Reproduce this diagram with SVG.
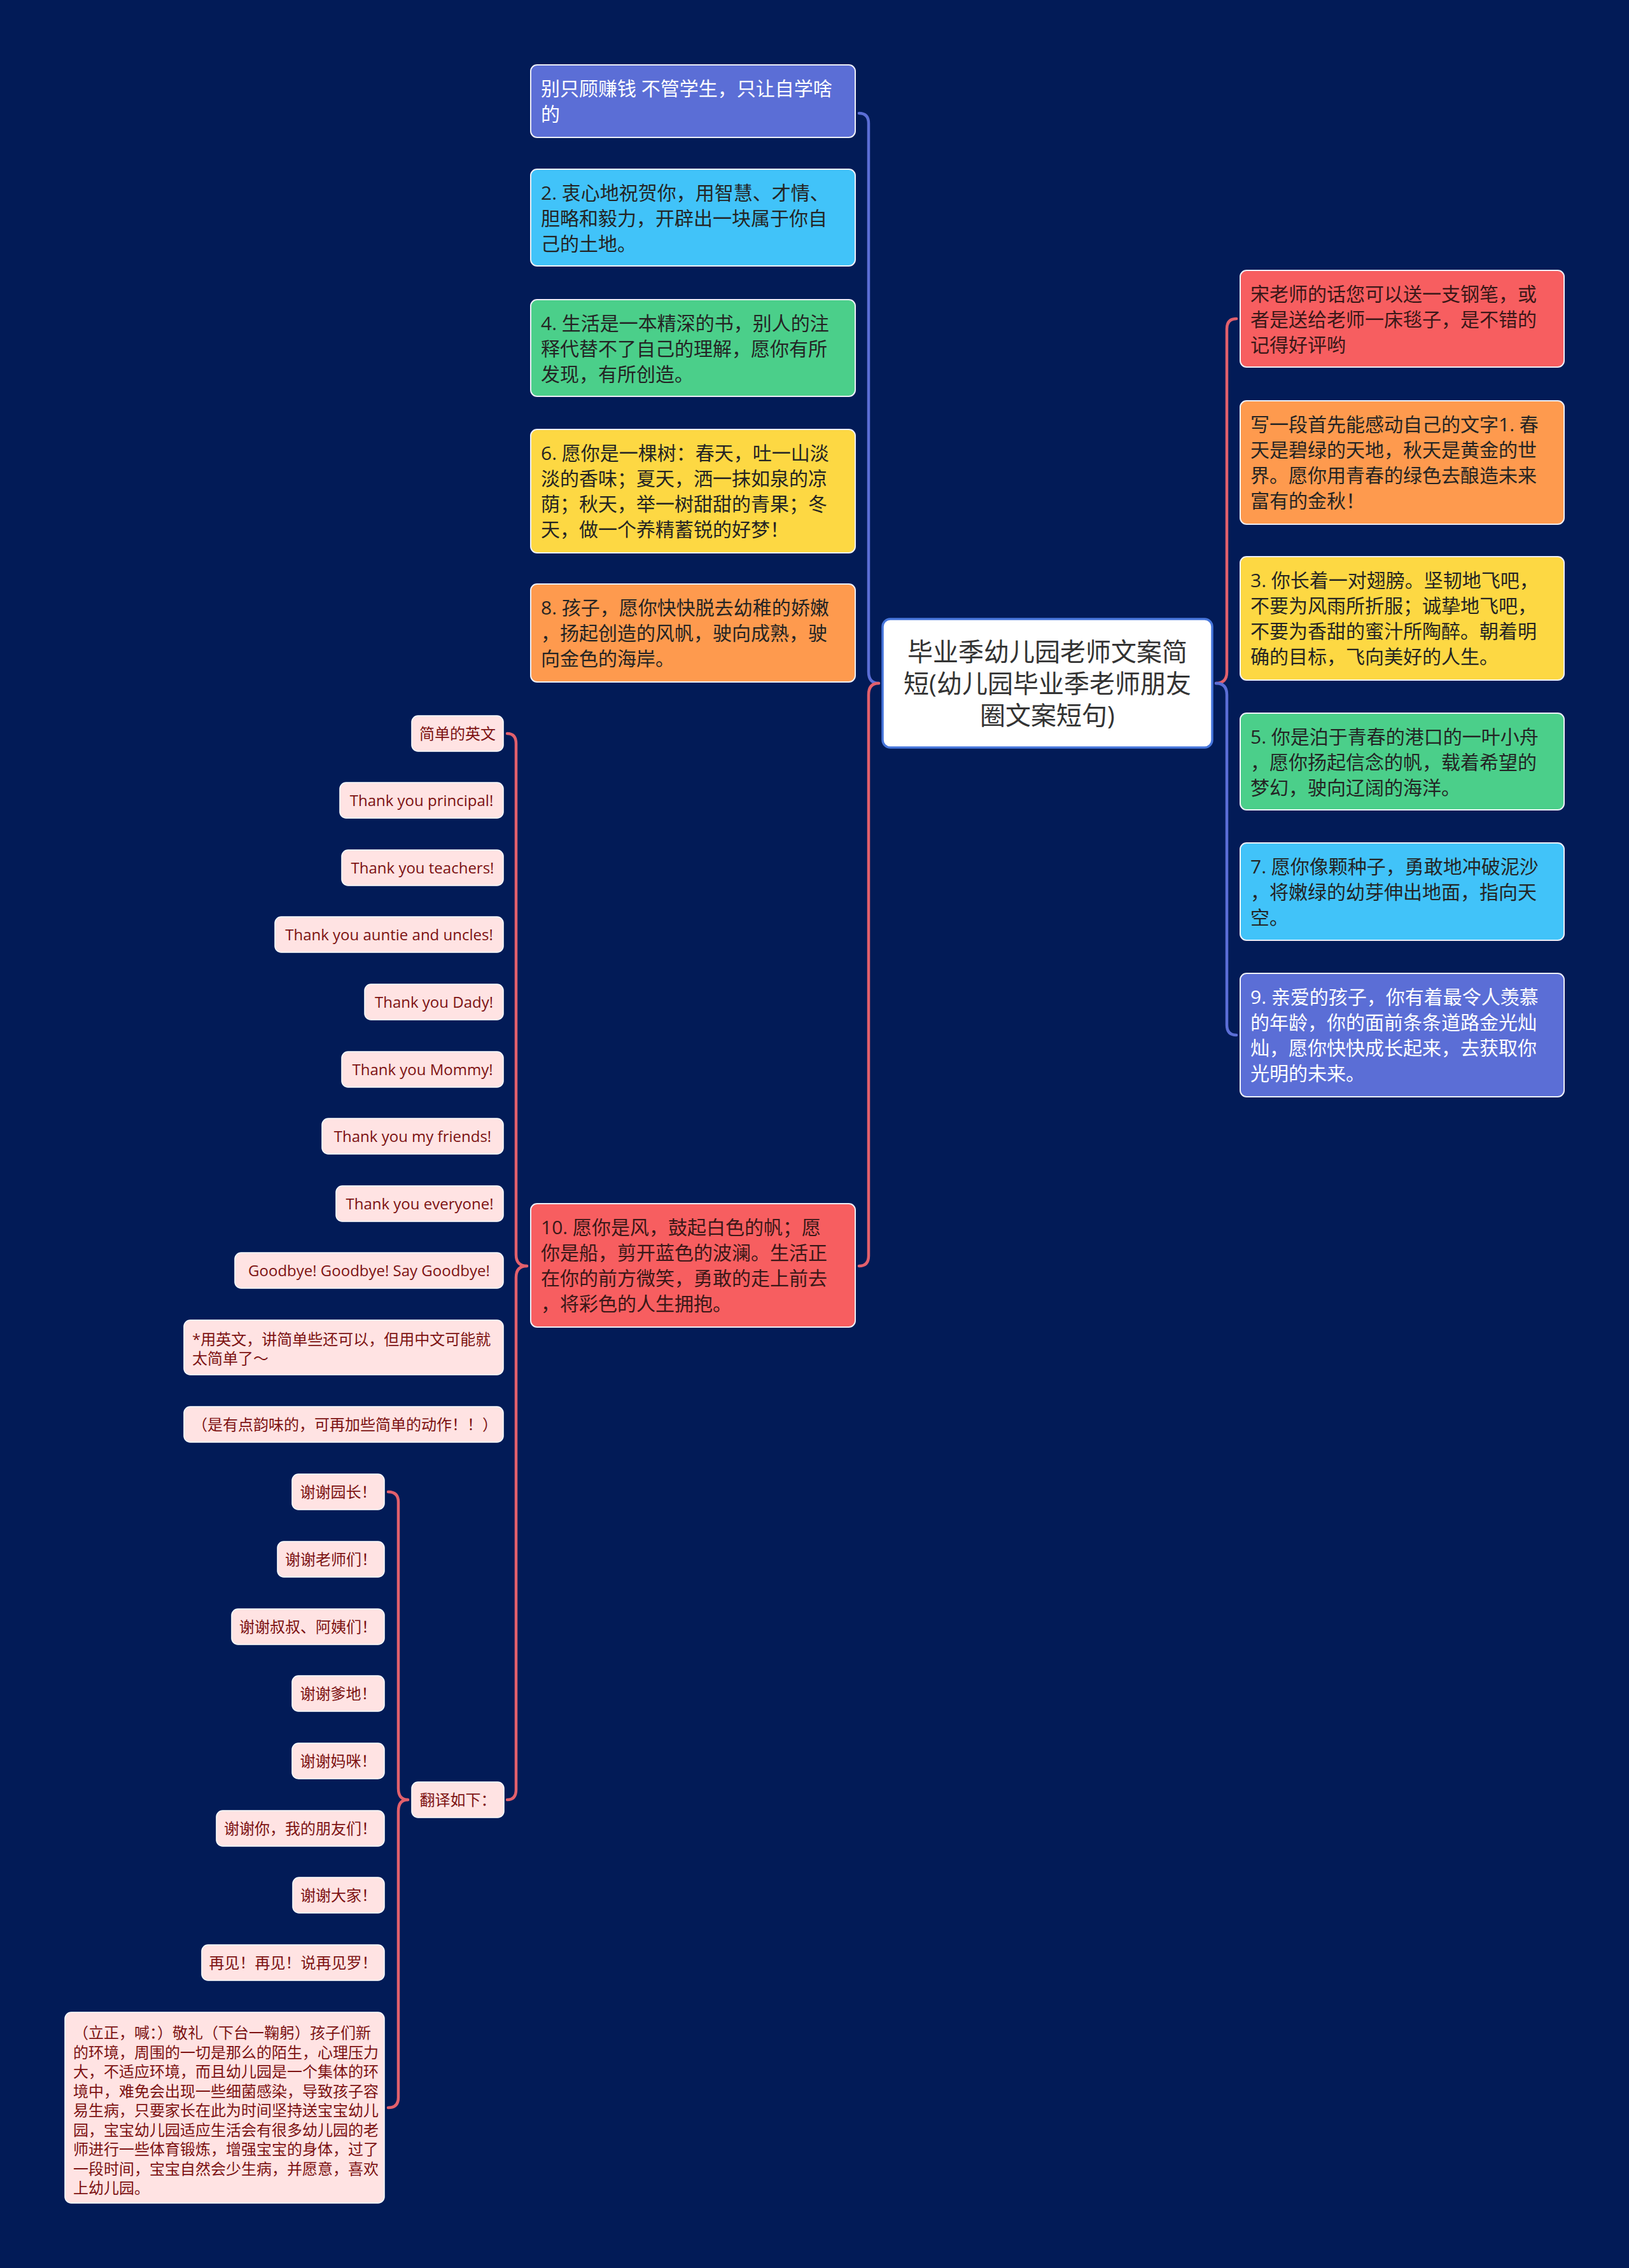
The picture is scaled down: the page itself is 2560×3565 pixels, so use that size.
<svg xmlns="http://www.w3.org/2000/svg" width="2560" height="3565" viewBox="0 0 2560 3565">
<style>
.bg{fill:#021B57}
.c{fill:none;stroke-width:4.5;stroke-linecap:round;stroke-linejoin:round}
.cb{stroke:#5B6ED6}
.cr{stroke:#E2606C}
.box{stroke:#EEF0F8;stroke-width:2}
.root{fill:#FFFFFF;stroke:#4675DB;stroke-width:3.5}
.pk{fill:#FFE3E3;stroke:#FFFFFF;stroke-width:1.5}
.t1{font-family:"Open Sans","Noto Sans CJK SC",sans-serif;font-size:30px;fill:#242424}
.tw{fill:#FFFFFF}
.tr{fill:#3A1818}
.t0{font-family:"Open Sans","Noto Sans CJK SC",sans-serif;font-size:40px;fill:#333333;text-anchor:middle}
.tp{font-family:"Open Sans","Noto Sans CJK SC",sans-serif;font-size:24px;fill:#7D1212}
.m{text-anchor:middle}
</style>
<rect class="bg" x="0" y="0" width="2560" height="3565"/>

<g id="connectors">
<path class="c cb" d="M1350,178 Q1365,178 1365,194 L1365,1056 Q1365,1074 1381,1074"/>
<path class="c cr" d="M1381,1074 Q1365,1074 1365,1092 L1365,1974 Q1365,1990 1350,1990"/>
<path class="c cr" d="M1943,501 Q1928,501 1928,517 L1928,1056 Q1928,1074 1911,1074"/>
<path class="c cb" d="M1911,1074 Q1928,1074 1928,1092 L1928,1611 Q1928,1627 1943,1627"/>
<path class="c cr" d="M797,1153 Q811,1153 811,1169 L811,1972 Q811,1990 828,1990"/>
<path class="c cr" d="M828,1990 Q811,1990 811,2008 L811,2813 Q811,2829 797,2829"/>
<path class="c cr" d="M610,2345 Q626,2345 626,2361 L626,2811 Q626,2829 641,2829"/>
<path class="c cr" d="M641,2829 Q626,2829 626,2847 L626,3297 Q626,3313 610,3313"/>
</g>

<g id="root">
<rect class="root" x="1387" y="973" width="518" height="202" rx="12"/>
<text class="t0" x="1646" y="1039">毕业季幼儿园老师文案简</text>
<text class="t0" x="1646" y="1089">短(幼儿园毕业季老师朋友</text>
<text class="t0" x="1646" y="1139">圈文案短句)</text>
</g>

<g id="l1">
<rect class="box" x="834" y="102" width="510" height="114" rx="10" fill="#5B6ED6"/>
<text class="t1 tw" x="850" y="150">别只顾赚钱 不管学生，只让自学啥</text>
<text class="t1 tw" x="850" y="190">的</text>
</g>
<g id="l2">
<rect class="box" x="834" y="266" width="510" height="152" rx="10" fill="#41C3F9"/>
<text class="t1" x="850" y="314">2. 衷心地祝贺你，用智慧、才情、</text>
<text class="t1" x="850" y="354">胆略和毅力，开辟出一块属于你自</text>
<text class="t1" x="850" y="394">己的土地。</text>
</g>
<g id="l3">
<rect class="box" x="834" y="471" width="510" height="152" rx="10" fill="#4BCF8A"/>
<text class="t1" x="850" y="519">4. 生活是一本精深的书，别人的注</text>
<text class="t1" x="850" y="559">释代替不了自己的理解，愿你有所</text>
<text class="t1" x="850" y="599">发现，有所创造。</text>
</g>
<g id="l4">
<rect class="box" x="834" y="675" width="510" height="194" rx="10" fill="#FDD843"/>
<text class="t1" x="850" y="723">6. 愿你是一棵树：春天，吐一山淡</text>
<text class="t1" x="850" y="763">淡的香味；夏天，洒一抹如泉的凉</text>
<text class="t1" x="850" y="803">荫；秋天，举一树甜甜的青果；冬</text>
<text class="t1" x="850" y="843">天，做一个养精蓄锐的好梦！</text>
</g>
<g id="l5">
<rect class="box" x="834" y="918" width="510" height="154" rx="10" fill="#FE9A4E"/>
<text class="t1" x="850" y="966">8. 孩子，愿你快快脱去幼稚的娇嫩</text>
<text class="t1" x="850" y="1006">，扬起创造的风帆，驶向成熟，驶</text>
<text class="t1" x="850" y="1046">向金色的海岸。</text>
</g>
<g id="l6">
<rect class="box" x="834" y="1892" width="510" height="194" rx="10" fill="#F75E60"/>
<text class="t1 tr" x="850" y="1940">10. 愿你是风，鼓起白色的帆；愿</text>
<text class="t1 tr" x="850" y="1980">你是船，剪开蓝色的波澜。生活正</text>
<text class="t1 tr" x="850" y="2020">在你的前方微笑，勇敢的走上前去</text>
<text class="t1 tr" x="850" y="2060">，将彩色的人生拥抱。</text>
</g>

<g id="r1">
<rect class="box" x="1949" y="425" width="509" height="152" rx="10" fill="#F75E60"/>
<text class="t1 tr" x="1965" y="473">宋老师的话您可以送一支钢笔，或</text>
<text class="t1 tr" x="1965" y="513">者是送给老师一床毯子，是不错的</text>
<text class="t1 tr" x="1965" y="553">记得好评哟</text>
</g>
<g id="r2">
<rect class="box" x="1949" y="630" width="509" height="194" rx="10" fill="#FE9A4E"/>
<text class="t1" x="1965" y="678">写一段首先能感动自己的文字1. 春</text>
<text class="t1" x="1965" y="718">天是碧绿的天地，秋天是黄金的世</text>
<text class="t1" x="1965" y="758">界。愿你用青春的绿色去酿造未来</text>
<text class="t1" x="1965" y="798">富有的金秋！</text>
</g>
<g id="r3">
<rect class="box" x="1949" y="875" width="509" height="194" rx="10" fill="#FDD843"/>
<text class="t1" x="1965" y="923">3. 你长着一对翅膀。坚韧地飞吧，</text>
<text class="t1" x="1965" y="963">不要为风雨所折服；诚挚地飞吧，</text>
<text class="t1" x="1965" y="1003">不要为香甜的蜜汁所陶醉。朝着明</text>
<text class="t1" x="1965" y="1043">确的目标，飞向美好的人生。</text>
</g>
<g id="r4">
<rect class="box" x="1949" y="1121" width="509" height="152" rx="10" fill="#4BCF8A"/>
<text class="t1" x="1965" y="1169">5. 你是泊于青春的港口的一叶小舟</text>
<text class="t1" x="1965" y="1209">，愿你扬起信念的帆，载着希望的</text>
<text class="t1" x="1965" y="1249">梦幻，驶向辽阔的海洋。</text>
</g>
<g id="r5">
<rect class="box" x="1949" y="1325" width="509" height="153" rx="10" fill="#41C3F9"/>
<text class="t1" x="1965" y="1373">7. 愿你像颗种子，勇敢地冲破泥沙</text>
<text class="t1" x="1965" y="1413">，将嫩绿的幼芽伸出地面，指向天</text>
<text class="t1" x="1965" y="1453">空。</text>
</g>
<g id="r6">
<rect class="box" x="1949" y="1530" width="509" height="194" rx="10" fill="#5B6ED6"/>
<text class="t1 tw" x="1965" y="1578">9. 亲爱的孩子，你有着最令人羡慕</text>
<text class="t1 tw" x="1965" y="1618">的年龄，你的面前条条道路金光灿</text>
<text class="t1 tw" x="1965" y="1658">灿，愿你快快成长起来，去获取你</text>
<text class="t1 tw" x="1965" y="1698">光明的未来。</text>
</g>

<g id="e0"><rect class="pk" x="647" y="1125" width="144" height="56" rx="10"/><text class="tp m" x="719" y="1162">简单的英文</text></g>
<g id="e1"><rect class="pk" x="534" y="1230" width="257" height="56" rx="10"/><text class="tp m" x="662.5" y="1267">Thank you principal!</text></g>
<g id="e2"><rect class="pk" x="537" y="1336" width="254" height="56" rx="10"/><text class="tp m" x="664" y="1373">Thank you teachers!</text></g>
<g id="e3"><rect class="pk" x="432" y="1441" width="359" height="56" rx="10"/><text class="tp m" x="611.5" y="1478">Thank you auntie and uncles!</text></g>
<g id="e4"><rect class="pk" x="573" y="1547" width="218" height="56" rx="10"/><text class="tp m" x="682" y="1584">Thank you Dady!</text></g>
<g id="e5"><rect class="pk" x="537" y="1653" width="254" height="56" rx="10"/><text class="tp m" x="664" y="1690">Thank you Mommy!</text></g>
<g id="e6"><rect class="pk" x="506" y="1758" width="285" height="56" rx="10"/><text class="tp m" x="648.5" y="1795">Thank you my friends!</text></g>
<g id="e7"><rect class="pk" x="528" y="1864" width="263" height="56" rx="10"/><text class="tp m" x="659.5" y="1901">Thank you everyone!</text></g>
<g id="e8"><rect class="pk" x="369" y="1969" width="422" height="56" rx="10"/><text class="tp m" x="580" y="2006">Goodbye! Goodbye! Say Goodbye!</text></g>
<g id="e9"><rect class="pk" x="289" y="2075" width="502" height="86" rx="10"/><text class="tp" x="302" y="2114">*用英文，讲简单些还可以，但用中文可能就</text><text class="tp" x="302" y="2144">太简单了～</text></g>
<g id="e10"><rect class="pk" x="289" y="2211" width="502" height="56" rx="10"/><text class="tp" x="302" y="2248">（是有点韵味的，可再加些简单的动作！！）</text></g>
<g id="e11"><rect class="pk" x="647" y="2801" width="145" height="56" rx="10"/><text class="tp m" x="719.5" y="2838">翻译如下：</text></g>

<g id="z0"><rect class="pk" x="459" y="2317" width="145" height="56" rx="10"/><text class="tp m" x="531.5" y="2354">谢谢园长！</text></g>
<g id="z1"><rect class="pk" x="436" y="2423" width="168" height="56" rx="10"/><text class="tp m" x="520" y="2460">谢谢老师们！</text></g>
<g id="z2"><rect class="pk" x="364" y="2529" width="240" height="56" rx="10"/><text class="tp m" x="484" y="2566">谢谢叔叔、阿姨们！</text></g>
<g id="z3"><rect class="pk" x="459" y="2634" width="145" height="56" rx="10"/><text class="tp m" x="531.5" y="2671">谢谢爹地！</text></g>
<g id="z4"><rect class="pk" x="459" y="2740" width="145" height="56" rx="10"/><text class="tp m" x="531.5" y="2777">谢谢妈咪！</text></g>
<g id="z5"><rect class="pk" x="340" y="2846" width="264" height="56" rx="10"/><text class="tp m" x="472" y="2883">谢谢你，我的朋友们！</text></g>
<g id="z6"><rect class="pk" x="460" y="2951" width="144" height="56" rx="10"/><text class="tp m" x="532" y="2988">谢谢大家！</text></g>
<g id="z7"><rect class="pk" x="317" y="3057" width="287" height="56" rx="10"/><text class="tp m" x="460.5" y="3094">再见！再见！说再见罗！</text></g>
<g id="z8"><rect class="pk" x="102" y="3163" width="502" height="300" rx="10"/>
<text class="tp" x="115" y="3204">（立正，喊：）敬礼（下台一鞠躬）孩子们新</text>
<text class="tp" x="115" y="3234.5">的环境，周围的一切是那么的陌生，心理压力</text>
<text class="tp" x="115" y="3265">大，不适应环境，而且幼儿园是一个集体的环</text>
<text class="tp" x="115" y="3295.5">境中，难免会出现一些细菌感染，导致孩子容</text>
<text class="tp" x="115" y="3326">易生病，只要家长在此为时间坚持送宝宝幼儿</text>
<text class="tp" x="115" y="3356.5">园，宝宝幼儿园适应生活会有很多幼儿园的老</text>
<text class="tp" x="115" y="3387">师进行一些体育锻炼，增强宝宝的身体，过了</text>
<text class="tp" x="115" y="3417.5">一段时间，宝宝自然会少生病，并愿意，喜欢</text>
<text class="tp" x="115" y="3448">上幼儿园。</text>
</g>
</svg>
